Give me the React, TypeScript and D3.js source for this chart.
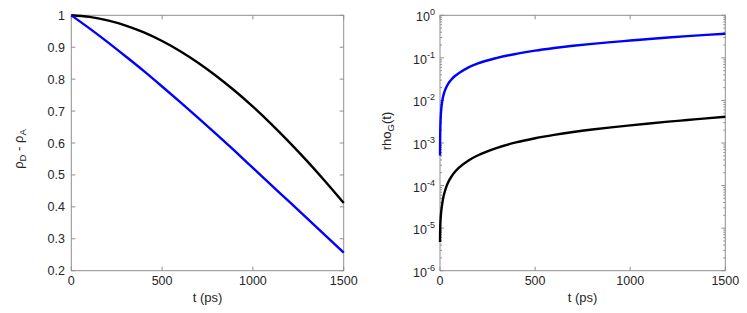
import React from "react";
import * as d3 from "d3";

const W = 747;
const H = 313;

// Left panel data: rho_D - rho_A vs t (ps)
const tLeft = [0, 100, 200, 300, 400, 500, 600, 700, 800, 900, 1000, 1100, 1200, 1300, 1400, 1500];
const blackLeft = [1.0, 0.995, 0.984, 0.968, 0.9463, 0.9194, 0.8875, 0.8507, 0.8093, 0.7637, 0.7139, 0.6602, 0.6029, 0.5424, 0.4787, 0.4123];
const blueLeft = [1.0, 0.959, 0.916, 0.871, 0.825, 0.777, 0.728, 0.678, 0.627, 0.575, 0.522, 0.469, 0.416, 0.363, 0.31, 0.257];

// Right panel data: rho_G(t), log scale
const tRight = [0.25, 0.5, 1, 2, 4, 7, 10, 15, 20, 30, 45, 60, 80, 100, 150, 200, 300, 400, 500, 600, 700, 800, 900, 1000, 1100, 1200, 1300, 1400, 1500];
const blueRight = [5.1e-4, 9e-4, 1.5e-3, 2.5e-3, 4.2e-3, 6.5e-3, 8.5e-3, 0.0115, 0.0143, 0.019, 0.0255, 0.031, 0.038, 0.044, 0.06, 0.0745, 0.1, 0.124, 0.148, 0.17, 0.192, 0.213, 0.234, 0.255, 0.278, 0.301, 0.324, 0.347, 0.37];
const blackRight = [4.7e-6, 6.6e-6, 9.2e-6, 1.3e-5, 1.85e-5, 2.6e-5, 3.3e-5, 4.6e-5, 5.9e-5, 8.5e-5, 1.24e-4, 1.62e-4, 2.13e-4, 2.64e-4, 3.9e-4, 5.15e-4, 7.7e-4, 1.03e-3, 1.29e-3, 1.55e-3, 1.81e-3, 2.07e-3, 2.33e-3, 2.6e-3, 2.88e-3, 3.17e-3, 3.47e-3, 3.8e-3, 4.15e-3];

const xTicks = [0, 500, 1000, 1500];
const yTicksLeft = [0.2, 0.3, 0.4, 0.5, 0.6, 0.7, 0.8, 0.9, 1];
const yTicksLeftLabels = ["0.2", "0.3", "0.4", "0.5", "0.6", "0.7", "0.8", "0.9", "1"];
const yExpRight = [-6, -5, -4, -3, -2, -1, 0];

const FONT = "'Liberation Sans', Arial, Helvetica, sans-serif";
const AXIS = "#8f8f8f";
const TXT = "#262626";
const BLUE = "#0000ff";
const BLACK = "#000000";

const top = 15.3;
const bottom = 270.7;

export default function App() {
  // Left scales
  const xL = d3.scaleLinear().domain([0, 1500]).range([71.3, 343.7]);
  const yL = d3.scaleLinear().domain([0.2, 1]).range([bottom, top]);
  // Right scales
  const xR = d3.scaleLinear().domain([0, 1500]).range([440, 725.3]);
  const yR = d3.scaleLog().domain([1e-6, 1]).range([bottom, top]);

  const lineL = (vals: number[]) =>
    d3
      .line<number>()
      .x((_, i) => xL(tLeft[i]))
      .y((d) => yL(d))
      .curve(d3.curveMonotoneX)(vals) || "";
  const lineR = (vals: number[]) =>
    d3
      .line<number>()
      .x((_, i) => xR(tRight[i]))
      .y((d) => yR(d))
      .curve(d3.curveMonotoneX)(vals) || "";

  const minorR: number[] = [];
  for (let e = -6; e < 0; e++) {
    for (let k = 2; k <= 9; k++) minorR.push(k * Math.pow(10, e));
  }

  const tl = 4;
  const mtl = 2;

  return (
    <svg width={W} height={H} style={{ position: "absolute", left: 0, top: 0, background: "#fff" }} fontFamily={FONT}>
      <rect x={0} y={0} width={W} height={H} fill="#fff" />
      {/* LEFT PANEL */}
      <g>
        <rect x={xL(0)} y={top} width={xL(1500) - xL(0)} height={bottom - top} fill="none" stroke={AXIS} strokeWidth={1} />
        {xTicks.map((t) => (
          <g key={"lx" + t}>
            <line x1={xL(t)} x2={xL(t)} y1={bottom} y2={bottom - tl} stroke={AXIS} />
            <line x1={xL(t)} x2={xL(t)} y1={top} y2={top + tl} stroke={AXIS} />
            <text x={xL(t)} y={285} textAnchor="middle" fontSize={12.5} fill={TXT}>
              {t}
            </text>
          </g>
        ))}
        {yTicksLeft.map((v, i) => (
          <g key={"ly" + v}>
            <line x1={xL(0)} x2={xL(0) + tl} y1={yL(v)} y2={yL(v)} stroke={AXIS} />
            <line x1={xL(1500)} x2={xL(1500) - tl} y1={yL(v)} y2={yL(v)} stroke={AXIS} />
            <text x={65} y={yL(v) + 4.5} textAnchor="end" fontSize={12.5} fill={TXT}>
              {yTicksLeftLabels[i]}
            </text>
          </g>
        ))}
        <path d={lineL(blackLeft)} fill="none" stroke={BLACK} strokeWidth={2.4} />
        <path d={lineL(blueLeft)} fill="none" stroke={BLUE} strokeWidth={2.4} />
        <text x={207.5} y={302} textAnchor="middle" fontSize={13} fill={TXT}>
          t (ps)
        </text>
        <text transform={`translate(23,149) rotate(-90)`} textAnchor="middle" fontSize={13} fill={TXT}>
          <tspan>ρ</tspan>
          <tspan fontSize={9.5} dy={3}>D</tspan>
          <tspan dy={-3}> - ρ</tspan>
          <tspan fontSize={9.5} dy={3}>A</tspan>
        </text>
      </g>

      {/* RIGHT PANEL */}
      <g>
        <rect x={xR(0)} y={top} width={xR(1500) - xR(0)} height={bottom - top} fill="none" stroke={AXIS} strokeWidth={1} />
        {xTicks.map((t) => (
          <g key={"rx" + t}>
            <line x1={xR(t)} x2={xR(t)} y1={bottom} y2={bottom - tl} stroke={AXIS} />
            <line x1={xR(t)} x2={xR(t)} y1={top} y2={top + tl} stroke={AXIS} />
            <text x={xR(t)} y={285} textAnchor="middle" fontSize={12.5} fill={TXT}>
              {t}
            </text>
          </g>
        ))}
        {minorR.map((v, i) => (
          <g key={"rm" + i}>
            <line x1={xR(0)} x2={xR(0) + mtl} y1={yR(v)} y2={yR(v)} stroke={AXIS} />
            <line x1={xR(1500)} x2={xR(1500) - mtl} y1={yR(v)} y2={yR(v)} stroke={AXIS} />
          </g>
        ))}
        {yExpRight.map((e) => (
          <g key={"ry" + e}>
            <line x1={xR(0)} x2={xR(0) + tl} y1={yR(Math.pow(10, e))} y2={yR(Math.pow(10, e))} stroke={AXIS} />
            <line x1={xR(1500)} x2={xR(1500) - tl} y1={yR(Math.pow(10, e))} y2={yR(Math.pow(10, e))} stroke={AXIS} />
            <text x={435} y={yR(Math.pow(10, e)) + 6} textAnchor="end" fontSize={12.5} fill={TXT}>
              <tspan>10</tspan>
              <tspan fontSize={9} dy={-6}>{e === 0 ? "0" : "-" + Math.abs(e)}</tspan>
            </text>
          </g>
        ))}
        <path d={lineR(blackRight)} fill="none" stroke={BLACK} strokeWidth={2.4} />
        <path d={lineR(blueRight)} fill="none" stroke={BLUE} strokeWidth={2.4} />
        <text x={582.5} y={302} textAnchor="middle" fontSize={13} fill={TXT}>
          t (ps)
        </text>
        <text transform={`translate(391,131) rotate(-90)`} textAnchor="middle" fontSize={13} fill={TXT}>
          <tspan>rho</tspan>
          <tspan fontSize={9.5} dy={3}>G</tspan>
          <tspan dy={-3}>(t)</tspan>
        </text>
      </g>
    </svg>
  );
}
